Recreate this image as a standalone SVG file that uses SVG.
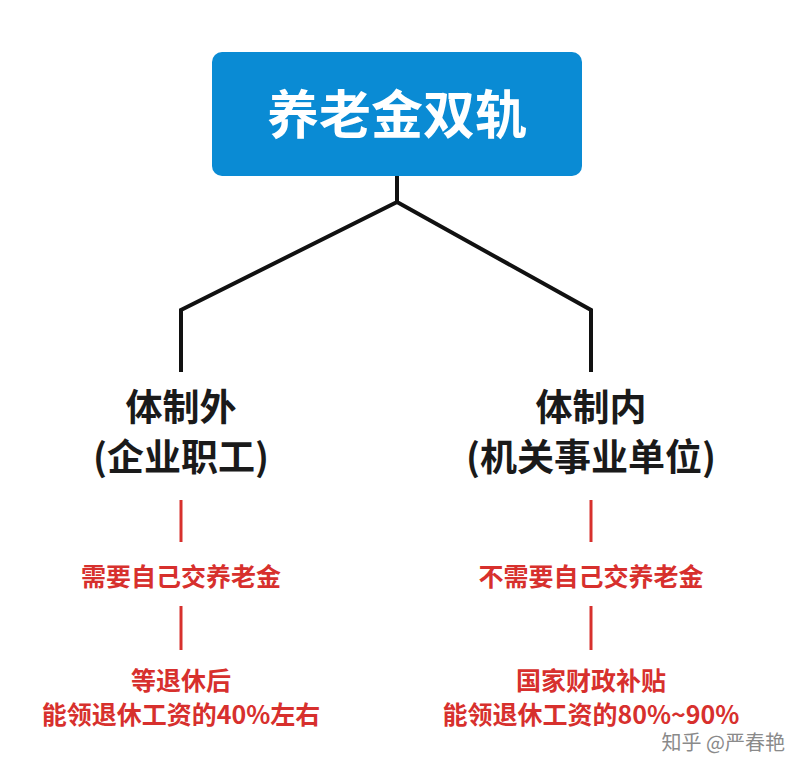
<svg xmlns="http://www.w3.org/2000/svg" width="804" height="773" viewBox="0 0 804 773">
<style>
.k{font-family:"Noto Sans CJK SC","Noto Sans",sans-serif;font-weight:bold;text-anchor:middle}
.b{font-size:37px;fill:#1a1a1a}
.r{font-size:25px;fill:#d7302d}
.ln{stroke:#111;stroke-width:4;fill:none}
.rl{stroke:#d7302d;stroke-width:3}
</style>
<rect width="804" height="773" fill="#fff"/>
<g id="connectors">
<polyline class="ln" points="397,176 397,202 181,310 181,372"/>
<polyline class="ln" points="397,202 591,310 591,372"/>
<line class="rl" x1="181" y1="500" x2="181" y2="542"/>
<line class="rl" x1="181" y1="606" x2="181" y2="650"/>
<line class="rl" x1="591" y1="500" x2="591" y2="542"/>
<line class="rl" x1="591" y1="606" x2="591" y2="650"/>
</g>
<g id="root">
<rect x="212" y="52" width="370" height="124" rx="10" fill="#0a8bd4"/>
<text class="k" x="397" y="134" font-size="52" fill="#fff">养老金双轨</text>
</g>
<g id="left">
<text class="k b" x="181" y="421">体制外</text>
<text class="k b" x="181" y="471">(企业职工)</text>
</g>
<g id="right">
<text class="k b" x="591" y="421">体制内</text>
<text class="k b" x="591" y="471">(机关事业单位)</text>
</g>
<g id="left-pay"><text class="k r" x="181" y="586">需要自己交养老金</text></g>
<g id="left-get"><text class="k r" x="181" y="690">等退休后</text><text class="k r" x="181" y="724">能领退休工资的40%左右</text></g>
<g id="right-pay"><text class="k r" x="591" y="586">不需要自己交养老金</text></g>
<g id="right-get"><text class="k r" x="591" y="690">国家财政补贴</text><text class="k r" x="591" y="724">能领退休工资的80%~90%</text></g>
<text x="785" y="750" text-anchor="end" font-family="Noto Sans CJK SC,sans-serif" font-size="20" fill="#8a8a8a">知乎 @严春艳</text>
</svg>
